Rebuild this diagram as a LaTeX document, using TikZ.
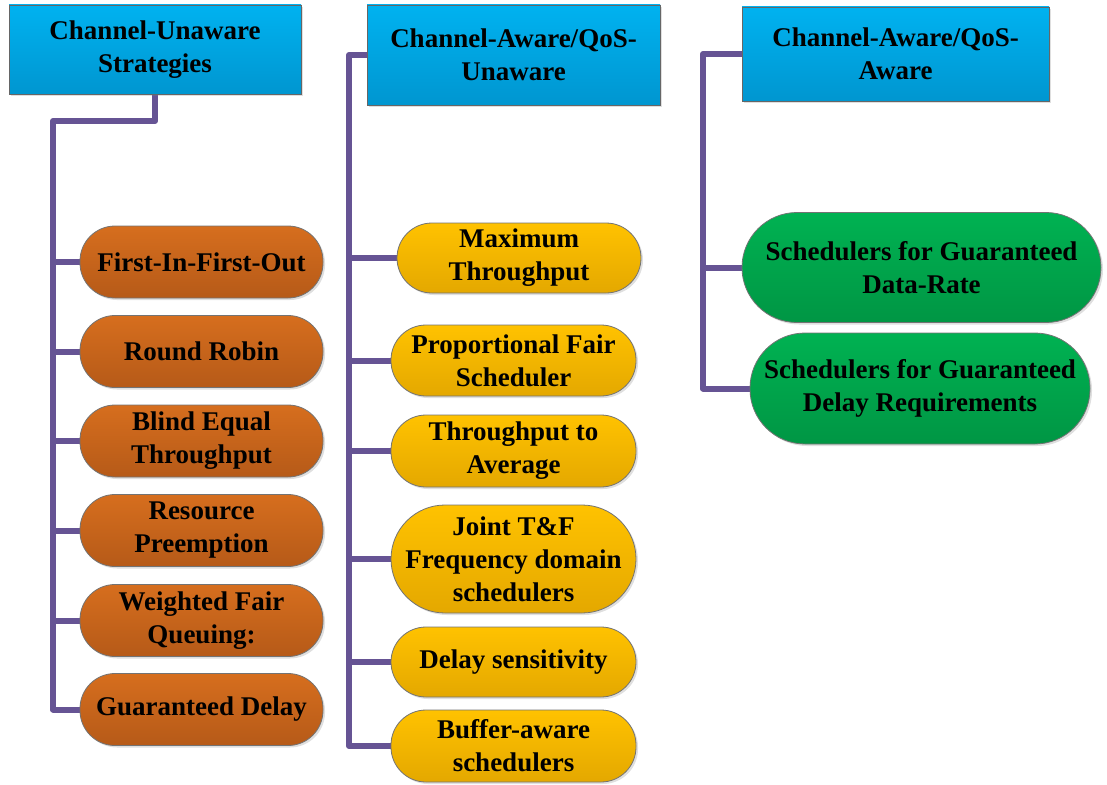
\documentclass[tikz,border=0pt]{standalone}
\usepackage{fontspec}
\setmainfont{Liberation Serif}
\usetikzlibrary{shadows}

\definecolor{hdtop}{RGB}{0,178,240}
\definecolor{hdbot}{RGB}{0,150,208}
\definecolor{ortop}{RGB}{214,110,30}
\definecolor{orbot}{RGB}{182,90,24}
\definecolor{yltop}{RGB}{255,194,0}
\definecolor{ylbot}{RGB}{228,168,0}
\definecolor{grtop}{RGB}{0,178,82}
\definecolor{grbot}{RGB}{0,150,68}
\definecolor{linkcol}{RGB}{102,84,148}

\pgfdeclarelayer{bg}
\pgfsetlayers{bg,main}

\tikzset{
  label font/.style={font=\bfseries\fontsize{27}{33}\selectfont, text=black, align=center},
  softshadow/.style={drop shadow={opacity=0.25, shadow xshift=2pt, shadow yshift=-2pt}},
  header/.style={label font, rectangle, draw=black!60, line width=0.8pt,
    top color=hdtop, bottom color=hdbot, inner sep=0pt, softshadow},
  pill/.style={label font, rectangle, rounded corners=35pt, draw=black!55, line width=0.8pt,
    inner sep=0pt, softshadow},
  orangepill/.style={pill, top color=ortop, bottom color=orbot},
  yellowpill/.style={pill, top color=yltop, bottom color=ylbot},
  greenpill/.style={pill, top color=grtop, bottom color=grbot},
  link/.style={draw=linkcol, line width=6pt, line join=round},
}

\begin{document}
\begin{tikzpicture}[x=1pt, y=-1pt]
\useasboundingbox (0,0) rectangle (1107,784);

% column headers
\node[header, minimum width=292pt, minimum height=89pt] (h1) at (155,49.5) {Channel-Unaware\\Strategies};
\node[header, minimum width=293pt, minimum height=100pt] (h2) at (513.5,55) {Channel-Aware/QoS-\\Unaware};
\node[header, minimum width=307pt, minimum height=94pt] (h3) at (895.5,54) {Channel-Aware/QoS-\\Aware};

% channel-unaware strategies
\node[orangepill, minimum width=243pt, minimum height=72pt] (a1) at (201.5,262) {First-In-First-Out};
\node[orangepill, minimum width=243pt, minimum height=72pt] (a2) at (201.5,351.5) {Round Robin};
\node[orangepill, minimum width=243pt, minimum height=72pt] (a3) at (201.5,441) {Blind Equal\\Throughput};
\node[orangepill, minimum width=243pt, minimum height=72pt] (a4) at (201.5,530.5) {Resource\\Preemption};
\node[orangepill, minimum width=243pt, minimum height=72pt] (a5) at (201.5,620.5) {Weighted Fair\\Queuing:};
\node[orangepill, minimum width=243pt, minimum height=72pt] (a6) at (201.5,709.5) {Guaranteed Delay};

% channel-aware / QoS-unaware
\node[yellowpill, minimum width=244pt, minimum height=70pt] (b1) at (519,258) {Maximum\\Throughput};
\node[yellowpill, minimum width=245pt, minimum height=71pt] (b2) at (513.5,360.5) {Proportional Fair\\Scheduler};
\node[yellowpill, minimum width=245pt, minimum height=72pt] (b3) at (513.5,451) {Throughput to\\Average};
\node[yellowpill, minimum width=245pt, minimum height=108pt, rounded corners=54pt] (b4) at (513.5,559) {Joint T\&F\\Frequency domain\\schedulers};
\node[yellowpill, minimum width=245pt, minimum height=70pt] (b5) at (513.5,662) {Delay sensitivity};
\node[yellowpill, minimum width=245pt, minimum height=72pt] (b6) at (513.5,746) {Buffer-aware\\schedulers};

% channel-aware / QoS-aware
\node[greenpill, minimum width=359pt, minimum height=110pt, rounded corners=55pt] (c1) at (921.5,267.5) {Schedulers for Guaranteed\\Data-Rate};
\node[greenpill, minimum width=340pt, minimum height=111pt, rounded corners=55pt] (c2) at (920,388.5) {Schedulers for Guaranteed\\Delay Requirements};

% tree connectors
\begin{pgfonlayer}{bg}
  \coordinate (s1) at (53,121);
  \draw[link] (h1.south) |- (s1) |- (a6.west);
  \foreach \n in {a1,a2,a3,a4,a5}
    \draw[link] (s1 |- \n.west) -- (\n.west);

  \coordinate (s2) at (349,55);
  \draw[link] (h2.west) -- (s2) |- (b6.west);
  \foreach \n in {b1,b2,b3,b4,b5}
    \draw[link] (s2 |- \n.west) -- (\n.west);

  \coordinate (s3) at (703,54);
  \draw[link] (h3.west) -- (s3) |- (c2.west);
  \draw[link] (s3 |- c1.west) -- (c1.west);
\end{pgfonlayer}
\end{tikzpicture}
\end{document}
